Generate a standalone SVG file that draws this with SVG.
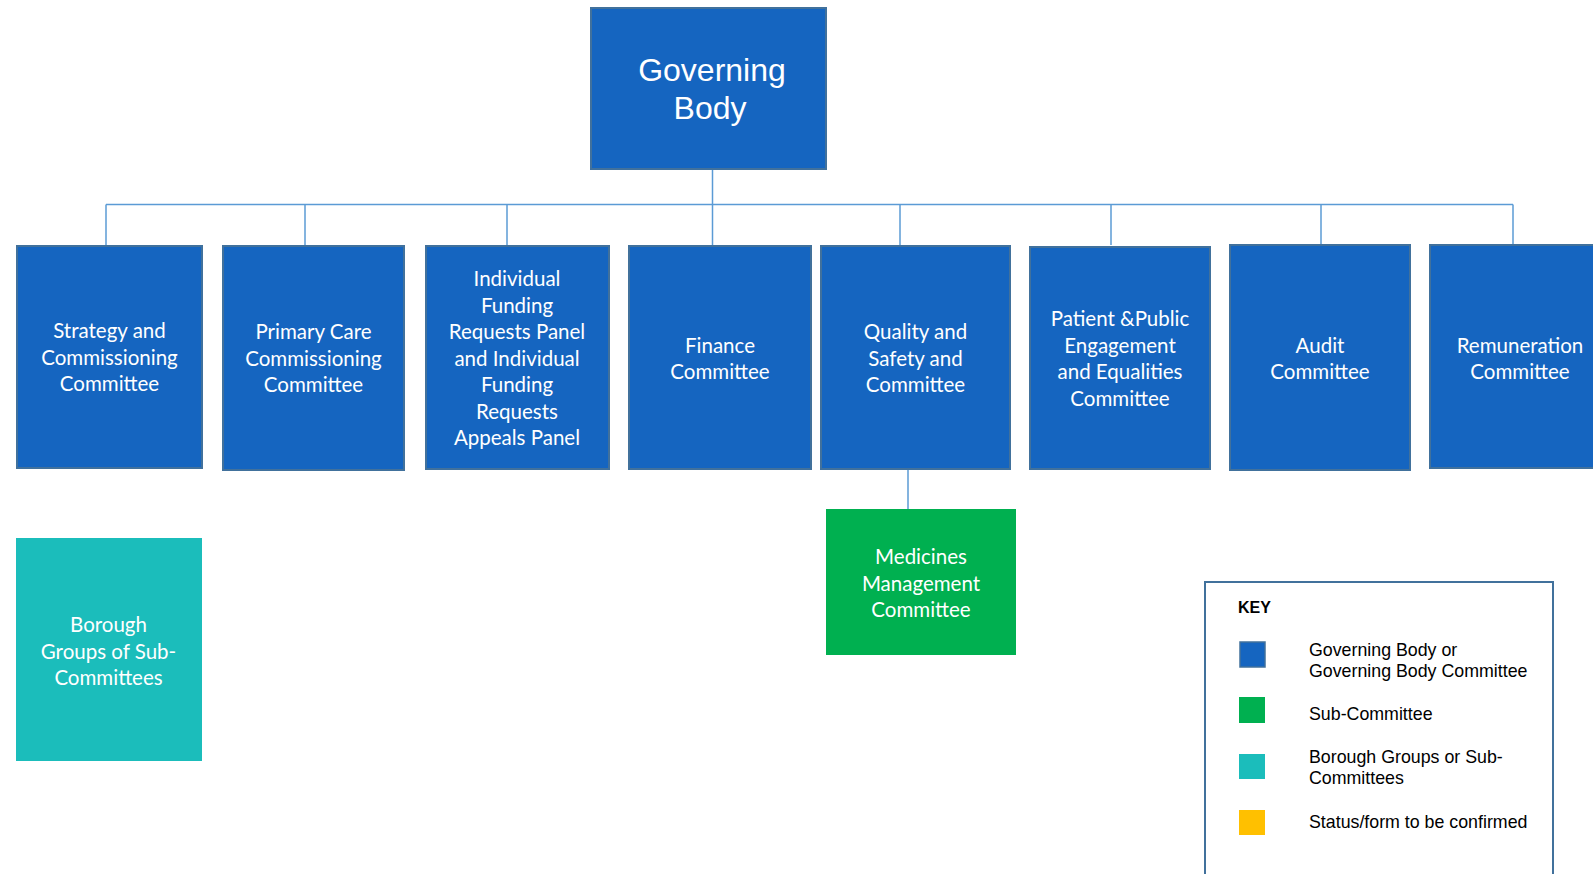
<svg xmlns="http://www.w3.org/2000/svg" width="1593" height="874" viewBox="0 0 1593 874">
<style>
.bg{fill:#ffffff}
.gb{fill:#1565c0;stroke:#41719c;stroke-width:2}
.sub{fill:#00b050}
.bor{fill:#1bbdbb}
.t{font-family:Lato,"Open Sans",sans-serif;font-size:20.5px;fill:#ffffff;text-anchor:middle}
.tg{font-family:"Liberation Sans",Arial,sans-serif;font-size:32px;fill:#ffffff;text-anchor:middle}
.conn line{stroke:#5b9bd5;stroke-width:1.5;fill:none}
.kt{font-family:"Liberation Sans",Arial,sans-serif;font-size:17.8px;fill:#000000}
.kh{font-family:"Liberation Sans",Arial,sans-serif;font-size:16px;font-weight:bold;fill:#000000}
</style>
<rect class="bg" x="0" y="0" width="1593" height="874"/>
<g id="connectors" class="conn">
<line x1="712.5" y1="169" x2="712.5" y2="245"/>
<line x1="106" y1="204.5" x2="1513" y2="204.5"/>
<line x1="106" y1="204.5" x2="106" y2="245"/>
<line x1="305" y1="204.5" x2="305" y2="245"/>
<line x1="507" y1="204.5" x2="507" y2="245"/>
<line x1="900" y1="204.5" x2="900" y2="245"/>
<line x1="1111" y1="204.5" x2="1111" y2="245"/>
<line x1="1321" y1="204.5" x2="1321" y2="245"/>
<line x1="1513" y1="204.5" x2="1513" y2="245"/>
<line x1="908" y1="469" x2="908" y2="509"/>
</g>
<g id="governing-body">
<rect class="gb" x="591" y="8" width="235" height="161"/>
<text class="tg" x="712" y="81">Governing</text>
<text class="tg" x="710" y="119">Body</text>
</g>
<g id="strategy">
<rect class="gb" x="17" y="246" width="185" height="222"/>
<text class="t" x="109.5" y="338">Strategy and</text>
<text class="t" x="109.5" y="364.5">Commissioning</text>
<text class="t" x="109.5" y="391">Committee</text>
</g>
<g id="primary-care">
<rect class="gb" x="223" y="246" width="181" height="224"/>
<text class="t" x="313.5" y="339">Primary Care</text>
<text class="t" x="313.5" y="365.5">Commissioning</text>
<text class="t" x="313.5" y="392">Committee</text>
</g>
<g id="ifr">
<rect class="gb" x="426" y="246" width="183" height="223"/>
<text class="t" x="517" y="286">Individual</text>
<text class="t" x="517" y="312.5">Funding</text>
<text class="t" x="517" y="339">Requests Panel</text>
<text class="t" x="517" y="365.5">and Individual</text>
<text class="t" x="517" y="392">Funding</text>
<text class="t" x="517" y="418.5">Requests</text>
<text class="t" x="517" y="445">Appeals Panel</text>
</g>
<g id="finance">
<rect class="gb" x="629" y="246" width="182" height="223"/>
<text class="t" x="720" y="352.5">Finance</text>
<text class="t" x="720" y="379">Committee</text>
</g>
<g id="quality">
<rect class="gb" x="821" y="246" width="189" height="223"/>
<text class="t" x="915.5" y="339">Quality and</text>
<text class="t" x="915.5" y="365.5">Safety and</text>
<text class="t" x="915.5" y="392">Committee</text>
</g>
<g id="patient">
<rect class="gb" x="1030" y="247" width="180" height="222"/>
<text class="t" x="1120" y="326">Patient &amp;Public</text>
<text class="t" x="1120" y="352.5">Engagement</text>
<text class="t" x="1120" y="379">and Equalities</text>
<text class="t" x="1120" y="405.5">Committee</text>
</g>
<g id="audit">
<rect class="gb" x="1230" y="245" width="180" height="225"/>
<text class="t" x="1320" y="352.5">Audit</text>
<text class="t" x="1320" y="379">Committee</text>
</g>
<g id="remuneration">
<rect class="gb" x="1430" y="245" width="180" height="223"/>
<text class="t" x="1520" y="352.5">Remuneration</text>
<text class="t" x="1520" y="379">Committee</text>
</g>
<g id="medicines">
<rect class="sub" x="826" y="509" width="190" height="146"/>
<text class="t" x="921" y="564">Medicines</text>
<text class="t" x="921" y="590.5">Management</text>
<text class="t" x="921" y="617">Committee</text>
</g>
<g id="borough">
<rect class="bor" x="16" y="538" width="186" height="223"/>
<text class="t" x="108.5" y="632">Borough</text>
<text class="t" x="108.5" y="658.5">Groups of Sub-</text>
<text class="t" x="108.5" y="685">Committees</text>
</g>
<g id="key">
<rect x="1205" y="582" width="348" height="300" fill="#ffffff" stroke="#41719c" stroke-width="2"/>
<text class="kh" x="1238" y="613">KEY</text>
<rect x="1240" y="642" width="25" height="25" fill="#1565c0" stroke="#41719c" stroke-width="1.5"/>
<rect x="1239" y="697" width="26" height="26" fill="#00b050"/>
<rect x="1239" y="754" width="26" height="25" fill="#1bbdbb"/>
<rect x="1239" y="810" width="26" height="25" fill="#ffc000"/>
<text class="kt" x="1309" y="656">Governing Body or</text>
<text class="kt" x="1309" y="677">Governing Body Committee</text>
<text class="kt" x="1309" y="720">Sub-Committee</text>
<text class="kt" x="1309" y="763">Borough Groups or Sub-</text>
<text class="kt" x="1309" y="784">Committees</text>
<text class="kt" x="1309" y="828">Status/form to be confirmed</text>
</g>
</svg>
